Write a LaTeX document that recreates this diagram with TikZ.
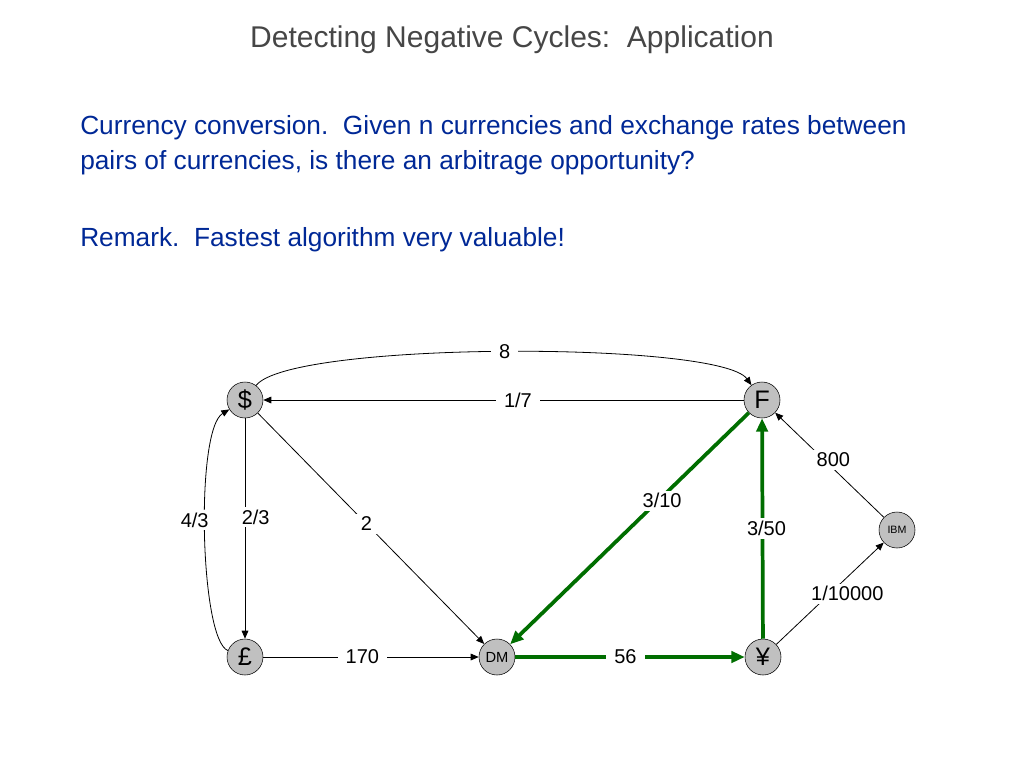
\documentclass[tikz,border=0pt]{standalone}
\usepackage{fontspec}
\setmainfont{Liberation Sans}
\usetikzlibrary{arrows.meta}
\tikzstyle{slide} = [x = 0.75pt, y = -0.75pt]
\definecolor{titleColor}{RGB}{70,70,70}
\definecolor{textColor}{RGB}{0,40,150}
\definecolor{cycleColor}{RGB}{0,110,0}
\definecolor{nodeColor}{RGB}{192,192,192}
\tikzstyle{currency} = [circle, draw = black, fill = nodeColor, minimum size = 27pt, inner sep = 0pt, font = \fontsize{19}{19}\selectfont]
\tikzstyle{rateEdge} = [-{Triangle[length = 6pt, width = 5pt]}, line width = 0.6pt]
\tikzstyle{cycleEdge} = [-{Triangle[length = 10pt, width = 8.5pt]}, color = cycleColor, line width = 2.8pt]
\tikzstyle{rateLabel} = [fill = white, inner xsep = 6pt, inner ysep = 2pt, text = black, font = \fontsize{15}{15}\selectfont]
\tikzstyle{bodyText} = [anchor = west, inner sep = 0pt, text = textColor, font = \fontsize{19.7}{19.7}\selectfont]
\newcommand{\rate}[5]{\draw [rateEdge] (#1) -- node [rateLabel, pos = #4, xshift = #5] {#3} (#2);}
\newcommand{\cycleRate}[5]{\draw [cycleEdge] (#1) -- node [rateLabel, pos = #4, xshift = #5] {#3} (#2);}
\begin{document}
\begin{tikzpicture}[slide]
  \useasboundingbox (0,0) rectangle (1024,768);
  \node (title) at (512,40) [text = titleColor, font = \fontsize{22.5}{22.5}\selectfont] {Detecting Negative Cycles:\ \ Application};
  \node (line1) at (80,128) [bodyText] {Currency conversion.\ \ Given n currencies and exchange rates between};
  \node (line2) at (80,163) [bodyText] {pairs of currencies, is there an arbitrage opportunity?};
  \node (remark) at (80,240) [bodyText] {Remark.\ \ Fastest algorithm very valuable!};

  \node [currency] (dollar) at (245,400) {\$};
  \node [currency] (franc) at (762,400) {F};
  \node [currency] (pound) at (245,657) {£};
  \node [currency, font = \fontsize{11}{11}\selectfont] (dm) at (497,657) {DM};
  \node [currency] (yen) at (763,657) {¥};
  \node [currency, font = \fontsize{8}{8}\selectfont] (ibm) at (897,530) {IBM};

  \draw [rateEdge] (dollar) .. controls +(45,-59) and +(-42,-59) .. node [rateLabel] {8} (franc);
  \draw [rateEdge] (pound) .. controls +(-45,-17) and +(-50,30) .. node [rateLabel, pos = 0.54, xshift = -8pt] {4/3} (dollar);
  \rate{franc}{dollar}{1/7}{0.47}{0pt}
  \rate{dollar}{pound}{2/3}{0.45}{8pt}
  \rate{dollar}{dm}{2}{0.48}{0pt}
  \rate{pound}{dm}{170}{0.46}{0pt}
  \rate{ibm}{franc}{800}{0.55}{7pt}
  \rate{yen}{ibm}{1/10000}{0.5}{13pt}
  \cycleRate{franc}{dm}{3/10}{0.38}{3pt}
  \cycleRate{dm}{yen}{56}{0.48}{0pt}
  \cycleRate{yen}{franc}{3/50}{0.5}{3pt}
\end{tikzpicture}
\end{document}
